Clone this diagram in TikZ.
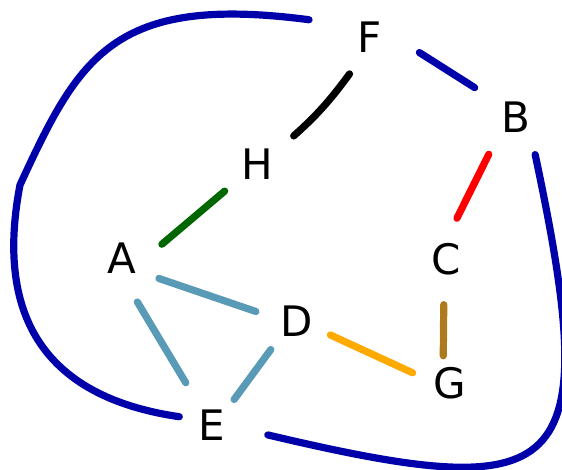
\documentclass[tikz,border=0pt]{standalone}
\usepackage{fontspec}
\setmainfont{DejaVu Sans}
\usepackage{tikz}
\definecolor{edgeN}{RGB}{0,0,170}
\definecolor{edgeG}{RGB}{0,102,0}
\definecolor{edgeR}{RGB}{255,0,0}
\definecolor{edgeBr}{RGB}{175,122,28}
\definecolor{edgeO}{RGB}{255,170,0}
\definecolor{edgeS}{RGB}{89,154,183}

\begin{document}
\begin{tikzpicture}[x=1pt, y=1pt, font=\fontsize{42}{50}\selectfont,
  vx/.style={circle, inner sep=0pt, minimum size=84pt},
  ed/.style={line width=7.2pt, line cap=round}]
  \useasboundingbox (0,0) rectangle (562,470);
  \node[vx] (F) at (370,433) {F};
  \node[vx] (B) at (516,353) {B};
  \node[vx] (H) at (257,306) {H};
  \node[vx] (A) at (122,212) {A};
  \node[vx] (C) at (446,211) {C};
  \node[vx] (D) at (297,149) {D};
  \node[vx] (G) at (450,87) {G};
  \node[vx] (E) at (212,45) {E};
  \coordinate (kinkEF) at (20,285);
  \draw[ed, edgeN, shorten <=10pt, shorten >=8.5pt] (F.-14) -- (B.144);
  \draw[ed, black, shorten >=4pt] (F.241) to[bend left=6] (H.37);
  \draw[ed, edgeG] (H.220) -- (A.19);
  \draw[ed, edgeR, shorten <=4pt] (B.233) -- (C.75);
  \draw[ed, edgeBr, shorten <=3.5pt, shorten >=-14.5pt] (C.267) -- (G.99);
  \draw[ed, edgeS] (A.-29) -- (D.167);
  \draw[ed, edgeS, shorten <=4.5pt, shorten >=7.5pt] (A.-72) -- (E.122);
  \draw[ed, edgeS, shorten <=-3.5pt, shorten >=-8.5pt] (D.228) -- (E.50);
  \draw[ed, edgeO, shorten <=-6pt, shorten >=-3.5pt] (D.-23) -- (G.164);
  \draw[ed, edgeN, shorten <=-8.5pt, shorten >=21.5pt] (E.167)
    .. controls (30,75) and (-2,170) .. (kinkEF)
    .. controls (79,413) and (113,476) .. (F.160);
  \draw[ed, edgeN, shorten <=14.5pt] (E.-9)
    .. controls (565,-35) and (605,-12) .. (B.-63);
\end{tikzpicture}
\end{document}
